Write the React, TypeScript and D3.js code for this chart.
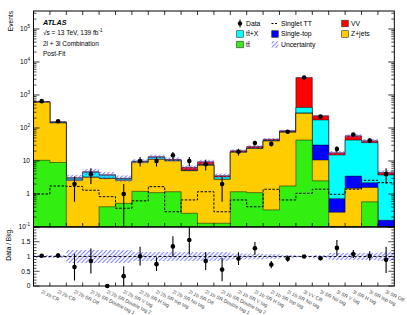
import React from 'react';
import * as d3 from 'd3';

const regions = [
  '2l 1b CR', '2l 2b CR', '2l 2b SR Off', '2l 2b SR Double tag 1', '2l 2b SR Double tag 2',
  '2l 2b SR V tag', '2l 2b SR H tag', '2l 2b SR top tag', '2l 2b SR No tag', '2l 1b SR Off',
  '2l 1b SR Double tag 1', '2l 1b SR Double tag 2', '2l 1b SR V tag', '2l 1b SR H tag',
  '2l 1b SR top tag', '2l 1b SR No tag', '3l VV CR', '3l SR No tag', '3l SR V tag',
  '3l SR H tag', '3l SR top tag', '3l SR Off',
];

// stacked backgrounds, bottom to top
const ttbar = [10.5, 9, 0.02, 0.02, 0.41, 0.52, 1.2, 1.1, 1.17, 0.26, 0.13, 0.13, 1.17, 1.1, 0.33, 1.75, 43, 2.5, 0.02, 0.02, 0.58, 0.01];
const zjets = [595, 133, 2.6, 3.2, 2.55, 2.1, 8.0, 10.1, 9.0, 4.8, 7.3, 2.65, 17.2, 23.0, 40, 73, 237, 8.2, 0.26, 1.47, 1.0, 0.02];
const singleTop = [3, 1, 0.05, 0.05, 0.05, 0.05, 0.1, 0.1, 0.1, 0.05, 0.05, 0.02, 0.1, 0.1, 0.2, 0.3, 5, 19.8, 0.44, 2.0, 0.6, 0.13];
const ttX = [8, 7, 0.35, 1.3, 0.7, 0.25, 0.3, 1.6, 0.4, 0.2, 0.3, 0.5, 0.4, 0.6, 1.0, 1.5, 135, 144, 14.5, 39.5, 33.8, 3.6];
const vv = [18, 5, 0.1, 0.15, 0.1, 0.08, 0.3, 0.6, 0.5, 1.1, 1.7, 0.3, 1.6, 2.6, 4, 6.5, 2980, 61, 2.6, 15, 5.3, 0.74];

const singletTT = [1.0, 1.75, 1.7, 1.3, 0.83, 0.37, 0.62, 1.67, 0.29, 0.66, 1.17, 0.29, 0.66, 0.41, 1.39, 0.66, 1.05, 1.4, 0.98, 1.4, 2.6, 2.2];
const dataCounts = [650, 160, 2, 4, 0, 1, 10, 10, 15, 10, 8, 2, 19, 35, 33, 77, 3400, 221, 23, 63, 42, 4];
const relUnc = [0.05, 0.05, 0.22, 0.22, 0.22, 0.22, 0.15, 0.15, 0.15, 0.15, 0.15, 0.15, 0.1, 0.1, 0.08, 0.05, 0.03, 0.05, 0.12, 0.12, 0.12, 0.15];

const logTicks = [-1, 0, 1, 2, 3, 4, 5];
const ratioTicks = [0, 0.5, 1, 1.5];

const font = "'Liberation Sans', Arial, Helvetica, sans-serif";
const W = 407, H = 315;
const L = 33.5, R = 394.3, T = 11, MB = 227, RB = 286;

const Pow = ({ e }: { e: number }) => {
  if (e === 0) return <>1</>;
  if (e === 1) return <>10</>;
  return <>10<tspan dy={-2.8} fontSize={4.6}>{e}</tspan></>;
};

export default function App() {
  const x = d3.scaleBand<string>().domain(regions).range([L, R]).padding(0);
  const bw = x.bandwidth();
  const y = d3.scaleLog().domain([0.1, Math.pow(10, 5.545)]).range([MB, T]);
  const yr = d3.scaleLinear().domain([0, 2]).range([RB, MB]);
  const yc = (v: number) => y(Math.max(v, 0.1));

  const comps = [ttbar, zjets, singleTop, ttX, vv];
  const colors = ['#33ee11', '#ffcc00', '#0000ff', '#00ffff', '#ff0000'];
  const cums = comps.map((_, k) => regions.map((_, i) => comps.slice(0, k + 1).reduce((s, c) => s + c[i], 0)));
  const totals = cums[4];

  const stepPts = (vals: number[]): [number, number][] => {
    const pts: [number, number][] = vals.map((v, i) => [x(regions[i])!, yc(v)]);
    pts.push([R, yc(vals[vals.length - 1])]);
    return pts;
  };
  const area = d3.area<[number, number]>().x(d => d[0]).y0(MB).y1(d => d[1]).curve(d3.curveStepAfter);
  const line = d3.line<[number, number]>().x(d => d[0]).y(d => d[1]).curve(d3.curveStepAfter);

  const minor: number[] = [];
  for (let e = -1; e <= 5; e++) for (let m = 2; m <= 9; m++) {
    const v = m * Math.pow(10, e);
    if (v < y.domain()[1]) minor.push(v);
  }
  const ratioMinor = d3.range(0, 2.001, 0.1);
  const edges = regions.map(r => x(r)!).slice(1);

  return (
    <svg width={W} height={H} style={{ position: 'absolute', left: 0, top: 0, background: '#fff' }} fontFamily={font}>
      <defs>
        <pattern id="hatch" patternUnits="userSpaceOnUse" width={4.2} height={4.2}>
          <path d="M-1,1 l2,-2 M0,4.2 l4.2,-4.2 M3.2,5.2 l2,-2" stroke="#6464ff" strokeWidth={0.85} />
        </pattern>
        <clipPath id="mainClip"><rect x={L} y={T} width={R - L} height={MB - T} /></clipPath>
        <clipPath id="ratioClip"><rect x={L} y={MB} width={R - L} height={RB - MB} /></clipPath>
      </defs>

      {/* stack */}
      <g clipPath="url(#mainClip)">
        {[4, 3, 2, 1, 0].map(k => (
          <path key={k} d={area(stepPts(cums[k]))!} fill={colors[k]} stroke="#000" strokeOpacity={0.6} strokeWidth={0.8} />
        ))}
        <path d={line(stepPts(singletTT))!} fill="none" stroke="#000" strokeWidth={1} strokeDasharray="2.5,1.5" />
        {regions.map((r, i) => {
          const t = totals[i], u = relUnc[i];
          return <rect key={r} x={x(r)} y={yc(t * (1 + u))} width={bw} height={yc(t * (1 - u)) - yc(t * (1 + u))} fill="url(#hatch)" />;
        })}
        {regions.map((r, i) => {
          const n = dataCounts[i];
          if (n <= 0) return null;
          const cx = x(r)! + bw / 2, e = Math.sqrt(n);
          return (
            <g key={r}>
              <line x1={cx} x2={cx} y1={yc(n + e)} y2={yc(n - e)} stroke="#000" strokeWidth={1.1} />
              <circle cx={cx} cy={y(n)} r={2.3} fill="#000" />
            </g>
          );
        })}
      </g>

      {/* ratio */}
      <g clipPath="url(#ratioClip)">
        {regions.map((r, i) => (
          <rect key={r} x={x(r)} y={yr(1 + relUnc[i])} width={bw} height={yr(1 - relUnc[i]) - yr(1 + relUnc[i])} fill="url(#hatch)" />
        ))}
        <line x1={L} x2={R} y1={yr(1)} y2={yr(1)} stroke="#000" strokeWidth={0.9} strokeDasharray="3,2" />
        {regions.map((r, i) => {
          const n = dataCounts[i], t = totals[i];
          const cx = x(r)! + bw / 2, rat = n / t, e = Math.sqrt(n) / t;
          return (
            <g key={r}>
              {n > 0 && <line x1={cx} x2={cx} y1={yr(Math.min(rat + e, 2.2))} y2={yr(Math.max(rat - e, 0))} stroke="#000" strokeWidth={1.1} />}
            </g>
          );
        })}
      </g>
      {regions.map((r, i) => {
        const cx = x(r)! + bw / 2, rat = dataCounts[i] / totals[i];
        return <circle key={r} cx={cx} cy={yr(rat)} r={2.3} fill="#000" />;
      })}

      {/* frames */}
      <rect x={L} y={T} width={R - L} height={MB - T} fill="none" stroke="#000" strokeWidth={1} />
      <rect x={L} y={MB} width={R - L} height={RB - MB} fill="none" stroke="#000" strokeWidth={1} />

      {/* x ticks at bin edges */}
      {edges.map((ex, i) => (
        <g key={i} stroke="#000" strokeWidth={0.8}>
          <line x1={ex} x2={ex} y1={T} y2={T + 4} />
          <line x1={ex} x2={ex} y1={MB} y2={MB - 4} />
          <line x1={ex} x2={ex} y1={RB} y2={RB - 3.5} />
        </g>
      ))}

      {/* main y ticks */}
      {logTicks.map(e => {
        const v = Math.pow(10, e), ty = y(v);
        return (
          <g key={e}>
            <line x1={L} x2={L + 6} y1={ty} y2={ty} stroke="#000" strokeWidth={0.8} />
            <line x1={R} x2={R - 6} y1={ty} y2={ty} stroke="#000" strokeWidth={0.8} />
            {e > -1 && <text x={30} y={ty + 2.3} fontSize={6.6} textAnchor="end"><Pow e={e} /></text>}
          </g>
        );
      })}
      <text x={30} y={MB + 1.5} fontSize={6.6} textAnchor="end"><Pow e={-1} /></text>
      {minor.map((v, i) => (
        <g key={i} stroke="#000" strokeWidth={0.7}>
          <line x1={L} x2={L + 3} y1={y(v)} y2={y(v)} />
          <line x1={R} x2={R - 3} y1={y(v)} y2={y(v)} />
        </g>
      ))}

      {/* ratio y ticks */}
      {ratioMinor.map((v, i) => {
        const major = Math.abs(v * 2 - Math.round(v * 2)) < 1e-6;
        const len = major ? 6 : 3;
        return (
          <g key={i} stroke="#000" strokeWidth={0.7}>
            <line x1={L} x2={L + len} y1={yr(v)} y2={yr(v)} />
            <line x1={R} x2={R - len} y1={yr(v)} y2={yr(v)} />
          </g>
        );
      })}
      {ratioTicks.map(v => (
        <text key={v} x={30.5} y={yr(v) + 2.3} fontSize={6.6} textAnchor="end">{v}</text>
      ))}

      {/* axis titles */}
      <text transform={`translate(12.5,${T}) rotate(-90)`} fontSize={6.6} textAnchor="end">Events</text>
      <text transform={`translate(10.5,${MB + 1}) rotate(-90)`} fontSize={6.6} textAnchor="end">Data / Bkg.</text>

      {/* region labels */}
      {regions.map(r => (
        <text key={r} transform={`translate(${x(r)! + bw / 2 - 1},${RB + 7}) rotate(26)`} fontSize={5} fill="#444">{r}</text>
      ))}

      {/* ATLAS label */}
      <text x={43} y={25} fontSize={7.2} fontWeight="bold" fontStyle="italic">ATLAS</text>
      <text x={43} y={34.5} fontSize={6.5}>√s = 13 TeV, 139 fb<tspan dy={-2.8} fontSize={4.6}>-1</tspan></text>
      <text x={43} y={45.5} fontSize={6.5}>2l + 3l Combination</text>
      <text x={43} y={55.5} fontSize={6.5}>Post-Fit</text>

      {/* legend */}
      <g fontSize={6.8}>
        <line x1={240} x2={240} y1={19.5} y2={27.5} stroke="#000" strokeWidth={1} />
        <circle cx={240} cy={23.5} r={2.2} fill="#000" />
        <text x={246} y={25.8}>Data</text>
        <rect x={236.7} y={30.7} width={6.6} height={6.6} fill={colors[3]} stroke="#333" strokeWidth={0.6} />
        <text x={246} y={36.3}>tt̄+X</text>
        <rect x={236.7} y={41.2} width={6.6} height={6.6} fill={colors[0]} stroke="#333" strokeWidth={0.6} />
        <text x={246} y={46.8}>tt̄</text>

        <line x1={271.5} x2={278.5} y1={23.5} y2={23.5} stroke="#000" strokeWidth={1} strokeDasharray="2,1.5" />
        <text x={281} y={25.8}>Singlet TT</text>
        <rect x={271.7} y={30.7} width={6.6} height={6.6} fill={colors[2]} stroke="#333" strokeWidth={0.6} />
        <text x={281} y={36.3}>Single-top</text>
        <rect x={271.7} y={41.2} width={6.6} height={6.6} fill="url(#hatch)" />
        <text x={281} y={46.8}>Uncertainty</text>

        <rect x={341.7} y={20.2} width={6.6} height={6.6} fill={colors[4]} stroke="#333" strokeWidth={0.6} />
        <text x={351} y={25.8}>VV</text>
        <rect x={341.7} y={30.7} width={6.6} height={6.6} fill={colors[1]} stroke="#333" strokeWidth={0.6} />
        <text x={351} y={36.3}>Z+jets</text>
      </g>
    </svg>
  );
}
